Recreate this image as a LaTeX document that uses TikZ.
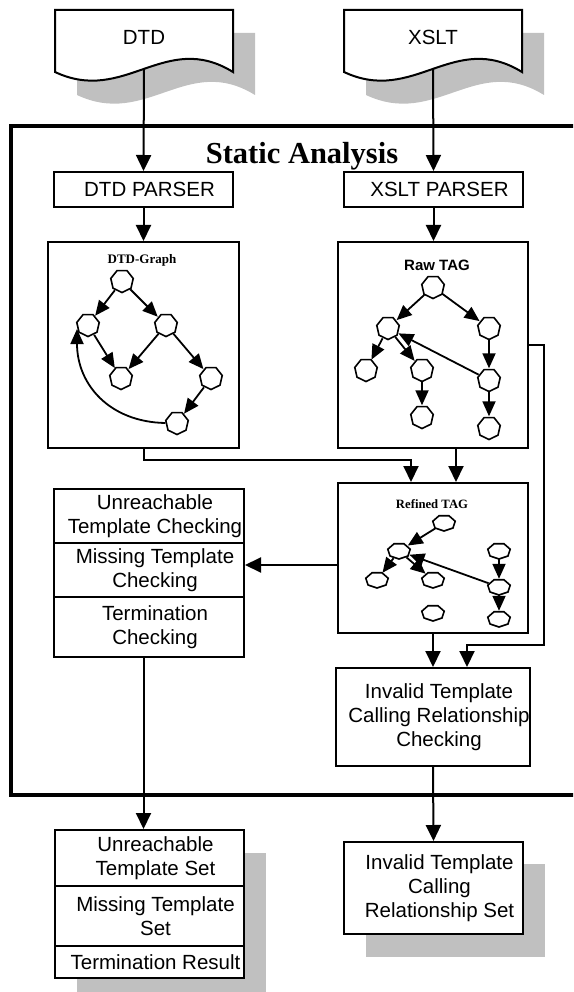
\documentclass[tikz,border=0pt]{standalone}
\usepackage{fontspec}
\setmainfont{Liberation Sans}
\newfontfamily\timesfam{Liberation Serif}
\usetikzlibrary{arrows.meta, shapes.geometric}
\definecolor{shadowgray}{RGB}{192,192,192}
\newcommand\lpad{\hspace*{12pt}}
\tikzset{
  boxtxt/.style={font=\fontsize{20.5}{24}\selectfont, align=center},
  box/.style={draw, line width=2pt, fill=white, inner sep=0pt, boxtxt},
  conn/.style={line width=2pt},
  arr/.style={line width=2pt, -{Triangle[length=16pt,width=15pt]}},
  garr/.style={line width=1.8pt, -{Triangle[length=15pt,width=13pt]}},
  vx/.style={ellipse, minimum width=23pt, minimum height=23pt, inner sep=0pt},
  vxf/.style={ellipse, minimum width=23pt, minimum height=16pt, inner sep=0pt},
  docpic/.pic={
    \fill[shadowgray] (22,23) -- (200,23) -- (200,85)
      .. controls (132,43) and (92,118) .. (22,85) -- cycle;
    \draw[conn, fill=white] (0,0) -- (178,0) -- (178,62)
      .. controls (110,20) and (70,95) .. (0,62) -- cycle;
  }
}
\begin{document}
\begin{tikzpicture}[x=1pt, y=-1pt]
\useasboundingbox (0,0) rectangle (573,992);
\clip (0,0) rectangle (573,992);

% input documents
\pic at (55,10) {docpic};
\pic at (344,10) {docpic};
\node[boxtxt] (dtd) at (144,37) {DTD};
\node[boxtxt] (xslt) at (433,37) {XSLT};
\coordinate (dtdb) at (144,69);
\coordinate (xsltb) at (433,69);

% static analysis frame
\draw[line width=4.5pt] (11,126) rectangle (600,795);
\node[font=\timesfam\bfseries\fontsize{30.5}{34}\selectfont, anchor=base] (sa) at (302,164) {Static Analysis};

% parsers
\node[box, minimum width=179pt, minimum height=35pt] (dtdp) at (143.5,189.5) {\lpad DTD PARSER};
\node[box, minimum width=179pt, minimum height=35pt] (xslp) at (433.5,189.5) {\lpad XSLT PARSER};

% graph panels
\node[box, minimum width=191pt, minimum height=206pt] (dtdg) at (143.5,345) {};
\node[box, minimum width=190pt, minimum height=206pt] (rawg) at (433,345) {};
\node[box, minimum width=190pt, minimum height=150pt] (refg) at (433,558) {};
\node[font=\timesfam\bfseries\fontsize{13}{15}\selectfont] (dtdgt) at (142,260) {DTD-Graph};
\node[font=\bfseries\fontsize{15}{17}\selectfont] (rawgt) at (437,265) {Raw TAG};
\node[font=\timesfam\bfseries\fontsize{12.7}{15}\selectfont] (refgt) at (432,504) {Refined TAG};

% checking boxes
\node[box, minimum width=190pt, minimum height=54pt] (chk1) at (149,516) {\lpad Unreachable\\\lpad Template Checking};
\node[box, minimum width=190pt, minimum height=54pt] (chk2) at (149,570) {\lpad Missing Template\\\lpad Checking};
\node[box, minimum width=190pt, minimum height=60pt] (chk3) at (149,627) {\lpad Termination\\\lpad Checking};
\node[box, minimum width=190pt, minimum height=98pt] (inv) at (433,717) {\lpad Invalid Template\\\lpad Calling Relationship\\\lpad Checking};

% results with shadows
\fill[shadowgray] (77,853) rectangle (266,1001);
\fill[shadowgray] (366,864) rectangle (545,957);
\node[box, minimum width=189pt, minimum height=56pt] (res1) at (149.5,858) {\lpad Unreachable\\\lpad Template Set};
\node[box, minimum width=189pt, minimum height=60pt] (res2) at (149.5,916) {\lpad Missing Template\\\lpad Set};
\node[box, minimum width=189pt, minimum height=32pt] (res3) at (149.5,962) {\lpad Termination Result};
\node[box, minimum width=179pt, minimum height=92pt] (invset) at (433.5,888) {\lpad Invalid Template\\\lpad Calling\\\lpad Relationship Set};

% main flow
\draw[arr] (dtdb) -- (dtdp.north);
\draw[arr] (xsltb) -- (xslp.north);
\draw[arr] (dtdp.south) -- (dtdg.north);
\draw[arr] (xslp.south) -- (rawg.north -| xslp.south);
\draw[arr] (dtdg.south) |- ([xshift=-22pt, yshift=22pt]refg.north) -- ([xshift=-22pt]refg.north);
\draw[arr] ([xshift=23pt]rawg.south) -- ([xshift=23pt]refg.north);
\coordinate (rtturn) at (544,645);
\draw[arr] (rawg.east) -| (rtturn) -| ([xshift=34pt]inv.north);
\draw[arr] (refg.south) -- (inv.north);
\draw[arr] ([yshift=5pt]refg.west |- chk2.east) -- ([yshift=5pt]chk2.east);
\draw[arr] (chk3.south -| dtdp.south) -- (res1.north -| dtdp.south);
\draw[arr] (inv.south) -- (invset.north);

% DTD graph
\node[vx] (n1) at (122,281) {};
\node[vx] (n2) at (88,325) {};
\node[vx] (n3) at (166,325) {};
\node[vx] (n4) at (121,378) {};
\node[vx] (n5) at (211,378) {};
\node[vx] (n6) at (177,423) {};
\draw[garr] (n1) -- (n2);
\draw[garr] (n1) -- (n3);
\draw[garr] (n2) -- (n4);
\draw[garr] (n3) -- (n4);
\draw[garr] (n3) -- (n5);
\draw[garr] (n5) -- (n6);
\draw[garr] (n6.west) .. controls (110,422) and (77,385) .. (n2.200);

% raw template association graph
\node[vx] (r1) at (433,287) {};
\node[vx] (r2) at (388,328) {};
\node[vx] (r3) at (489,328) {};
\node[vx] (r4) at (366,370) {};
\node[vx] (r5) at (422,370) {};
\node[vx] (r6) at (489,380) {};
\node[vx] (r7) at (422,417) {};
\node[vx] (r8) at (489,428) {};
\draw[garr] (r1) -- (r2);
\draw[garr] (r1) -- (r3);
\draw[garr] (r2) -- (r4);
\draw[garr] (r2) -- (r5);
\draw[garr] (r5) -- (r7);
\draw[garr] (r3) -- (r6);
\draw[garr] (r6) -- (r8);
\draw[garr] (r6) -- (r2);

% refined template association graph
\node[vxf] (f1) at (444,523) {};
\node[vxf] (f2) at (399,551) {};
\node[vxf] (f3) at (377,580) {};
\node[vxf] (f4) at (433,580) {};
\node[vxf] (f5) at (499,551) {};
\node[vxf] (f6) at (499,587) {};
\node[vxf] (f7) at (499,619) {};
\node[vxf] (f8) at (433,613) {};
\draw[garr] (f1) -- (f2);
\draw[garr] (f2) -- (f3);
\draw[garr] (f2) -- (f4);
\draw[garr] (f6) -- (f2);
\draw[garr] (f5) -- (f6);
\draw[garr] (f6) -- (f7);

% heptagon outlines of the vertices
\foreach \v in {n1,n2,n3,n4,n5,n6,r1,r2,r3,r4,r5,r6,r7,r8}
  \draw[line width=1.6pt, shift={(\v)}] (90:11.5)
    \foreach \k in {1,...,6} { -- ({90+\k*360/7}:11.5) } -- cycle;
\foreach \v in {f1,f2,f3,f4,f5,f6,f7,f8}
  \draw[line width=1.6pt, shift={(\v)}] (90:11.5 and 8)
    \foreach \k in {1,...,6} { -- ({90+\k*360/7}:11.5 and 8) } -- cycle;
\end{tikzpicture}
\end{document}
